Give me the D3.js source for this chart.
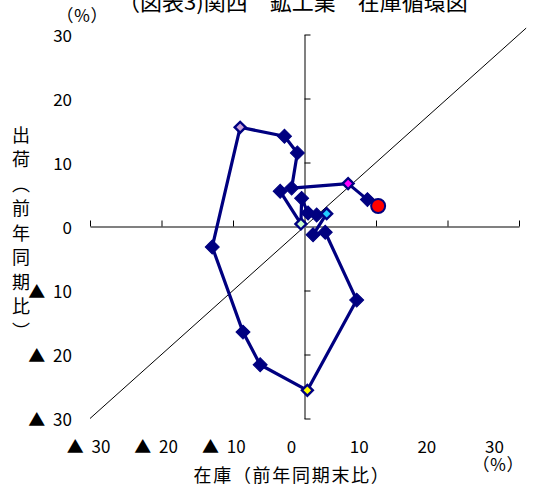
<!DOCTYPE html>
<html>
<head>
<meta charset="utf-8">
<script src="https://cdn.jsdelivr.net/npm/d3@7"></script>
<style>
  html, body { margin: 0; padding: 0; background: #fff; }
  svg { display: block; }
  text { font-family: "Noto Sans CJK JP", sans-serif; fill: #000; }
</style>
</head>
<body>
<svg id="chart" width="547" height="486"></svg>
<script>
// Texts
const title = "（図表3)関西　鉱工業　在庫循環図";
const xTitle = "在庫（前年同期末比）";
const yTitle = "出荷（前年同期比）";
const unitLabel = "（％）";

// Axis ticks and their labels
const tickValues = [-30, -20, -10, 0, 10, 20, 30];
const tickLabels = ["▲ 30", "▲ 20", "▲ 10", "0", "10", "20", "30"];

// Quarterly path: inventory (x, % y/y end of period) and shipments (y, % y/y)
const inventory = [-3.4, -0.5, -0.4, 0.5, 1.7, 3.1, 1.2, 2.9, 7.3, 0.4,
                   -6.2, -8.6, -12.9, -9.0, -2.8, -1.0, -1.8, 6.1, 8.8, 10.3];
const shipments = [5.5, 0.4, 4.4, 2.1, 1.8, 2.0, -1.3, -0.9, -11.5, -25.6,
                   -21.6, -16.5, -3.2, 15.5, 14.1, 11.5, 6.0, 6.7, 4.2, 3.2];

// 45-degree reference line end values
const diagonal = [-30, 31];

// Marker fills for highlighted points (by index); the last point is drawn as a circle
const highlightFill = { 1: "#ccffcc", 5: "#22ccff", 9: "#ffff00", 13: "#c9a0d8", 17: "#ff00ff" };
const latestFill = "#ff0000";
const navy = "#000080";

const svg = d3.select("#chart");
svg.append("rect").attr("width", 547).attr("height", 486).attr("fill", "#fff");

const x = d3.scaleLinear().domain([-30, 30]).range([90, 519]);
const y = d3.scaleLinear().domain([-30, 30]).range([418.5, 34.5]);
// Horizontal positions of the x tick labels
const xLabel = d3.scaleLinear().domain([-30, 30]).range([88.5, 494.5]);

// Title (top partly outside the canvas)
svg.append("text").attr("x", 118).attr("y", 10)
  .attr("font-size", 22).text(title);

// Axes crossing at the origin
const yAxis = d3.axisRight(y).tickValues(tickValues).tickSize(6).tickSizeOuter(0).tickFormat("");
const xAxis = d3.axisTop(x).tickValues(tickValues).tickSize(6).tickSizeOuter(0).tickFormat("");

const gy = svg.append("g").attr("transform", `translate(${x(0)},0)`).call(yAxis);
const gx = svg.append("g").attr("transform", `translate(0,${y(0)})`).call(xAxis);
[gx, gy].forEach(g => {
  g.select(".domain").attr("stroke", "#808080").attr("stroke-width", 2);
  g.selectAll(".tick line").attr("stroke", "#000").attr("stroke-width", 1);
});

// 45-degree line
svg.append("line")
  .attr("x1", x(diagonal[0])).attr("y1", y(diagonal[0]))
  .attr("x2", x(diagonal[1])).attr("y2", y(diagonal[1]))
  .attr("stroke", "#000").attr("stroke-width", 1);

// Y tick labels
svg.append("g").selectAll("text").data(tickValues).join("text")
  .attr("x", 72).attr("y", d => y(d) + 7.5)
  .attr("text-anchor", "end").attr("font-size", 17)
  .style("word-spacing", "4px").style("white-space", "pre")
  .text((d, i) => tickLabels[i]);

// X tick labels
svg.append("g").selectAll("text").data(tickValues).join("text")
  .attr("x", d => xLabel(d)).attr("y", 453)
  .attr("text-anchor", "middle").attr("font-size", 17)
  .style("word-spacing", "4px").style("white-space", "pre")
  .text((d, i) => tickLabels[i]);

// Units
svg.append("text").attr("x", 82).attr("y", 22).attr("text-anchor", "middle")
  .attr("font-size", 17).text(unitLabel);
svg.append("text").attr("x", 498).attr("y", 471).attr("text-anchor", "middle")
  .attr("font-size", 17).text(unitLabel);

// Axis titles
svg.append("text").attr("x", 292).attr("y", 482).attr("text-anchor", "middle")
  .attr("font-size", 18).style("letter-spacing", "1.7px").text(xTitle);
svg.append("text").attr("x", 21).attr("y", 126)
  .attr("font-size", 18)
  .style("writing-mode", "vertical-rl").style("letter-spacing", "6.5px")
  .text(yTitle);

// Cycle path
const pts = inventory.map((v, i) => ({ x: v, y: shipments[i], i }));
svg.append("path").datum(pts)
  .attr("fill", "none").attr("stroke", navy).attr("stroke-width", 3.2)
  .attr("stroke-linejoin", "round")
  .attr("d", d3.line().x(d => x(d.x)).y(d => y(d.y)));

// Markers
const last = pts.length - 1;
const plain = d3.symbol(d3.symbolSquare, 98)();
const ringed = d3.symbol(d3.symbolSquare, 60)();
svg.append("g").selectAll("path").data(pts.filter(d => d.i !== last)).join("path")
  .attr("transform", d => `translate(${x(d.x)},${y(d.y)}) rotate(45)`)
  .attr("d", d => highlightFill[d.i] ? ringed : plain)
  .attr("fill", d => highlightFill[d.i] || navy)
  .attr("stroke", navy)
  .attr("stroke-width", d => highlightFill[d.i] ? 2.4 : 1);

svg.append("circle")
  .attr("cx", x(pts[last].x)).attr("cy", y(pts[last].y)).attr("r", 7)
  .attr("fill", latestFill).attr("stroke", navy).attr("stroke-width", 2);
</script>
</body>
</html>
